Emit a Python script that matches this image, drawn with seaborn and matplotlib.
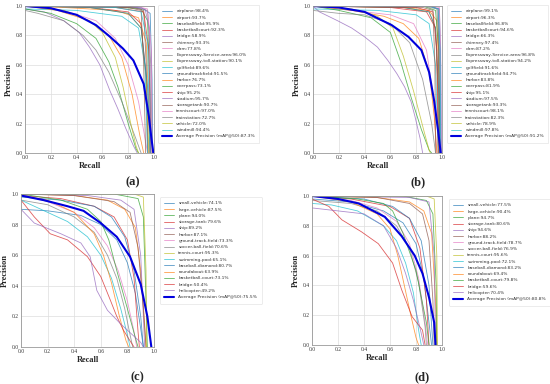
import numpy as np
import pandas as pd
import matplotlib
matplotlib.use("Agg")
import matplotlib.pyplot as plt
import seaborn as sns

# ---------------- data ----------------
classes_dior = ["airplane", "airport", "baseballfield", "basketballcourt", "bridge", "chimney", "dam",
                "Expressway-Service-area", "Expressway-toll-station", "golffield", "groundtrackfield",
                "harbor", "overpass", "ship", "stadium", "storagetank", "tenniscourt", "trainstation",
                "vehicle", "windmill"]
ap_a = [98.4, 93.7, 95.9, 92.3, 58.9, 93.3, 77.8, 96.0, 90.1, 89.6, 91.5, 76.7, 73.1, 95.2, 95.7, 90.7, 97.0, 72.7, 72.0, 94.4]
map_a = 87.3
ap_b = [99.1, 96.3, 96.8, 94.6, 66.3, 97.4, 87.2, 96.8, 94.2, 91.6, 94.7, 83.8, 81.9, 95.1, 97.5, 93.3, 98.1, 82.3, 78.9, 97.8]
map_b = 91.2

classes_dota = ["small-vehicle", "large-vehicle", "plane", "storage-tank", "ship", "harbor",
                "ground-track-field", "soccer-ball-field", "tennis-court", "swimming-pool",
                "baseball-diamond", "roundabout", "basketball-court", "bridge", "helicopter"]
ap_c = [74.1, 87.5, 94.0, 79.6, 89.2, 87.1, 73.3, 70.6, 95.3, 65.1, 80.7, 63.9, 73.1, 50.4, 49.2]
map_c = 75.5
ap_d = [77.5, 90.4, 94.7, 80.6, 94.6, 88.2, 78.7, 76.9, 95.6, 72.1, 83.2, 69.4, 79.8, 59.6, 70.4]
map_d = 80.8

# precision-recall curves (recall list, precision list)
rec_a = [[0, .5, .9, .97, .985, .99], [0, .3, .7, .88, .94, .96, .965], [0, .6, .9, .95, .97, .975],
         [0, .5, .8, .9, .94, .955], [0, .15, .3, .42, .5, .58, .66, .72, .78, .84, .87],
         [0, .85, .92, .94, .95], [0, .3, .55, .7, .8, .88, .93, .95], [0, .8, .95, .975, .985],
         [0, .5, .8, .9, .94, .96], [0, .4, .75, .88, .93, .95], [0, .5, .8, .9, .95, .97],
         [0, .25, .5, .65, .75, .83, .89, .92], [0, .2, .4, .55, .65, .72, .8, .86, .88],
         [0, .7, .92, .96, .975], [0, .8, .93, .965, .975], [0, .8, .9, .92, .935],
         [0, .85, .95, .98, .985], [0, .1, .3, .45, .55, .65, .75, .85, .9],
         [0, .3, .5, .6, .7, .76, .82, .86, .88], [0, .7, .9, .95, .97]]
prec_a = [[1, 1, .99, .95, .5, 0], [1, .99, .97, .92, .75, .3, 0], [1, 1, .98, .9, .4, 0],
          [1, .99, .96, .88, .5, 0], [.98, .96, .9, .82, .72, .6, .42, .3, .17, .05, 0],
          [1, .99, .97, .6, 0], [1, .97, .9, .78, .6, .35, .1, 0], [1, 1, .97, .6, 0],
          [1, .99, .95, .85, .5, 0], [.98, .97, .93, .85, .6, 0], [1, .99, .95, .85, .45, 0],
          [1, .97, .9, .8, .65, .4, .12, 0], [.98, .95, .88, .78, .62, .45, .2, .03, 0],
          [1, .99, .96, .7, 0], [1, 1, .98, .85, 0], [1, .99, .97, .6, 0],
          [1, 1, .98, .7, 0], [.97, .95, .9, .8, .7, .55, .35, .12, 0],
          [1, .97, .9, .82, .65, .45, .2, .05, 0], [1, .99, .96, .75, 0]]
mean_rec_a = [0, .2, .4, .55, .66, .76, .84, .92, .96, .98, .995]
mean_prec_a = [1, .985, .94, .87, .79, .71, .63, .47, .25, .1, 0]

rec_b = [[0, .9, .98, .99, .995], [0, .7, .9, .96, .98, .985], [0, .85, .95, .975, .985],
         [0, .6, .88, .95, .97, .975], [0, .05, .19, .3, .4, .5, .58, .65, .71, .76, .79, .83, .85],
         [0, .9, .97, .975, .98], [0, .3, .6, .78, .88, .93, .96], [0, .85, .96, .98, .99],
         [0, .7, .9, .95, .97, .975], [0, .5, .8, .9, .95, .97], [0, .7, .9, .95, .975, .98],
         [0, .3, .55, .7, .82, .9, .94, .96], [0, .2, .45, .6, .68, .76, .84, .9, .92],
         [0, .8, .93, .96, .97], [0, .9, .97, .985, .99], [0, .85, .93, .945, .95],
         [0, .9, .98, .99, .995], [0, .2, .4, .6, .75, .85, .92, .95],
         [0, .3, .5, .62, .7, .78, .86, .9, .91], [0, .9, .97, .985, .99]]
prec_b = [[1, 1, .98, .6, 0], [1, .99, .97, .9, .4, 0], [1, 1, .97, .7, 0],
          [1, .99, .96, .85, .4, 0], [1, .96, .9, .85, .79, .72, .63, .54, .45, .35, .25, .1, 0],
          [1, 1, .98, .6, 0], [1, .97, .94, .88, .7, .4, 0], [1, 1, .98, .7, 0],
          [1, .99, .96, .85, .4, 0], [.98, .97, .94, .88, .6, 0], [1, .99, .96, .85, .4, 0],
          [1, .97, .93, .88, .78, .55, .25, 0], [1, .97, .92, .82, .62, .38, .16, .02, 0],
          [1, .99, .96, .7, 0], [1, 1, .98, .7, 0], [1, .99, .97, .6, 0],
          [1, 1, .99, .7, 0], [.97, .95, .94, .88, .75, .5, .2, 0],
          [1, .98, .93, .85, .66, .42, .15, .02, 0], [1, 1, .98, .7, 0]]
mean_rec_b = [0, .2, .4, .61, .74, .84, .9, .94, .97, .99]
mean_prec_b = [1, .99, .96, .87, .79, .7, .55, .35, .15, 0]

rec_c = [[0, .2, .45, .6, .72, .8, .86, .9, .92], [0, .4, .65, .78, .86, .9, .93, .94],
         [0, .7, .88, .92, .94, .95], [0, .3, .55, .7, .8, .85, .88, .89],
         [0, .5, .75, .85, .9, .92, .93], [0, .4, .7, .82, .88, .92, .94],
         [0, .2, .4, .55, .65, .73, .8, .85, .87], [0, .2, .4, .55, .65, .72, .78, .82, .84],
         [0, .85, .92, .94, .945], [0, .15, .35, .5, .6, .68, .75, .8, .82],
         [0, .3, .55, .68, .78, .85, .9, .92], [0, .2, .4, .55, .62, .68, .74, .79, .81],
         [0, .3, .5, .6, .66, .72, .8, .86, .88], [0, .1, .22, .35, .5, .6, .67, .72, .77, .82, .85],
         [0, .1, .3, .45, .52, .57, .65, .75, .85, .9, .92]]
prec_c = [[.9, .89, .86, .8, .7, .55, .35, .12, 0], [1, .99, .96, .9, .78, .5, .15, 0],
          [1, 1, .97, .85, .3, 0], [.99, .97, .92, .85, .7, .45, .1, 0],
          [1, .99, .96, .9, .6, .2, 0], [1, .99, .95, .88, .65, .25, 0],
          [1, .95, .88, .78, .66, .5, .3, .1, 0], [.96, .93, .85, .75, .6, .45, .25, .08, 0],
          [1, 1, .98, .5, 0], [.96, .9, .82, .72, .6, .45, .25, .08, 0],
          [.98, .96, .92, .85, .72, .5, .2, 0], [.99, .96, .88, .74, .6, .42, .2, .04, 0],
          [1, .96, .9, .82, .7, .5, .25, .06, 0], [.96, .85, .74, .7, .59, .46, .31, .2, .11, .04, 0],
          [.9, .81, .74, .68, .59, .37, .24, .15, .07, .03, 0]]
mean_rec_c = [0, .17, .35, .47, .6, .72, .82, .9, .95, .98]
mean_prec_c = [.99, .96, .92, .89, .81, .72, .59, .41, .2, 0]

rec_d = [[0, .3, .55, .7, .8, .86, .9, .92], [0, .5, .75, .86, .92, .95, .96],
         [0, .7, .88, .93, .955, .96], [0, .3, .6, .75, .83, .88, .9],
         [0, .75, .9, .94, .95], [0, .5, .75, .85, .9, .93, .94],
         [0, .3, .5, .65, .75, .82, .87, .89], [0, .3, .5, .65, .75, .82, .87, .88],
         [0, .88, .94, .96, .965], [0, .15, .35, .55, .65, .72, .78, .82, .84],
         [0, .4, .62, .75, .84, .9, .93], [0, .3, .5, .6, .66, .71, .76, .8, .82],
         [0, .35, .55, .62, .7, .8, .88, .9], [0, .13, .23, .38, .51, .62, .69, .77, .85, .87],
         [0, .2, .4, .55, .65, .72, .78, .84, .86]]
prec_d = [[.98, .96, .9, .82, .68, .45, .15, 0], [1, .99, .96, .9, .75, .3, 0],
          [1, 1, .97, .88, .4, 0], [1, .98, .93, .85, .65, .3, 0],
          [1, .99, .96, .6, 0], [1, .99, .95, .88, .7, .3, 0],
          [1, .97, .92, .83, .68, .45, .15, 0], [.97, .95, .9, .8, .65, .42, .12, 0],
          [1, 1, .98, .6, 0], [.95, .94, .9, .8, .7, .55, .35, .1, 0],
          [1, .98, .93, .85, .7, .4, 0], [1, .96, .88, .78, .6, .4, .2, .05, 0],
          [1, .98, .95, .9, .75, .5, .15, 0], [.98, .93, .84, .76, .68, .55, .37, .19, .1, 0],
          [.92, .9, .88, .8, .65, .48, .3, .08, 0]]
mean_rec_d = [0, .2, .36, .56, .69, .79, .85, .9, .94, .95]
mean_prec_d = [1, .98, .95, .86, .73, .6, .48, .32, .15, 0]

tick_vals = [0.0, 0.2, 0.4, 0.6, 0.8, 1.0]
tick_labels = ["0.0", "0.2", "0.4", "0.6", "0.8", "1.0"]
panel_tags = ["(a)", "(b)", "(c)", "(d)"]

# ---------------- plotting ----------------
sns.set_theme(style="whitegrid")
plt.rcParams["font.family"] = ["DejaVu Sans"]

W, H = 550, 384
fig = plt.figure(figsize=(5.5, 3.84), dpi=100)
fig.patch.set_facecolor("white")

def px_axes(l, t, r, b):
    return fig.add_axes([l / W, 1 - b / H, (r - l) / W, (b - t) / H])

pal = sns.color_palette("tab10", 10)
serif = ["Liberation Serif", "DejaVu Serif"]

panels = [
    (classes_dior, ap_a, map_a, rec_a, prec_a, mean_rec_a, mean_prec_a, (25, 6, 154, 153), (158, 5), (133, 182)),
    (classes_dior, ap_b, map_b, rec_b, prec_b, mean_rec_b, mean_prec_b, (313, 6, 442, 153), (447, 5), (418, 182)),
    (classes_dota, ap_c, map_c, rec_c, prec_c, mean_rec_c, mean_prec_c, (21, 194, 154, 347), (160, 197), (137, 377)),
    (classes_dota, ap_d, map_d, rec_d, prec_d, mean_rec_d, mean_prec_d, (312, 196, 442, 345), (449, 199), (422, 377)),
]

for k, (cls, aps, mp, recs, precs, mr, mpc, box, legpos, tagpos) in enumerate(panels):
    ax = px_axes(*box)
    ax.set_facecolor("white")
    for i, name in enumerate(cls):
        df = pd.DataFrame({"Recall": recs[i], "Precision": precs[i]})
        sns.lineplot(data=df, x="Recall", y="Precision", ax=ax, sort=False, estimator=None,
                     color=pal[i % 10], alpha=0.75, linewidth=0.6,
                     label=f"{name}:{aps[i]:.1f}%")
    dfm = pd.DataFrame({"Recall": mr, "Precision": mpc})
    sns.lineplot(data=dfm, x="Recall", y="Precision", ax=ax, sort=False, estimator=None,
                 color="#0000dd", linewidth=1.5,
                 label=f"Average Precision (mAP@50):{mp:.1f}%")
    ax.set_xlim(0, 1)
    ax.set_ylim(0, 1)
    ax.set_xticks(tick_vals)
    ax.set_yticks(tick_vals)
    ax.set_xticklabels(tick_labels, fontsize=4, family=serif, color="#333333")
    ax.set_yticklabels(tick_labels, fontsize=4, family=serif, color="#333333")
    ax.tick_params(axis="both", length=0, pad=1.5)
    ax.grid(True, color="#dddddd", linewidth=0.5)
    for s in ax.spines.values():
        s.set_color("#999999")
        s.set_linewidth(0.6)
    ax.set_xlabel("Recall", fontsize=6, family=serif, fontweight="bold", labelpad=1.5)
    ax.set_ylabel("Precision", fontsize=6, family=serif, fontweight="bold", labelpad=2)
    leg = ax.legend(loc="upper left", bbox_to_anchor=(legpos[0] / W, 1 - legpos[1] / H),
                    bbox_transform=fig.transFigure, fontsize=3.15, frameon=True,
                    handlelength=2.3, handletextpad=0.9, labelspacing=0.5,
                    borderpad=1.0, borderaxespad=0)
    leg.get_frame().set_edgecolor("#dddddd")
    leg.get_frame().set_linewidth(0.5)
    for t in leg.get_texts():
        t.set_color("#333333")
    fig.text(tagpos[0] / W, 1 - tagpos[1] / H, panel_tags[k], ha="center", va="center",
             fontsize=9, family=serif, fontweight="bold")

fig.savefig("out.png", dpi=100, facecolor="white")
